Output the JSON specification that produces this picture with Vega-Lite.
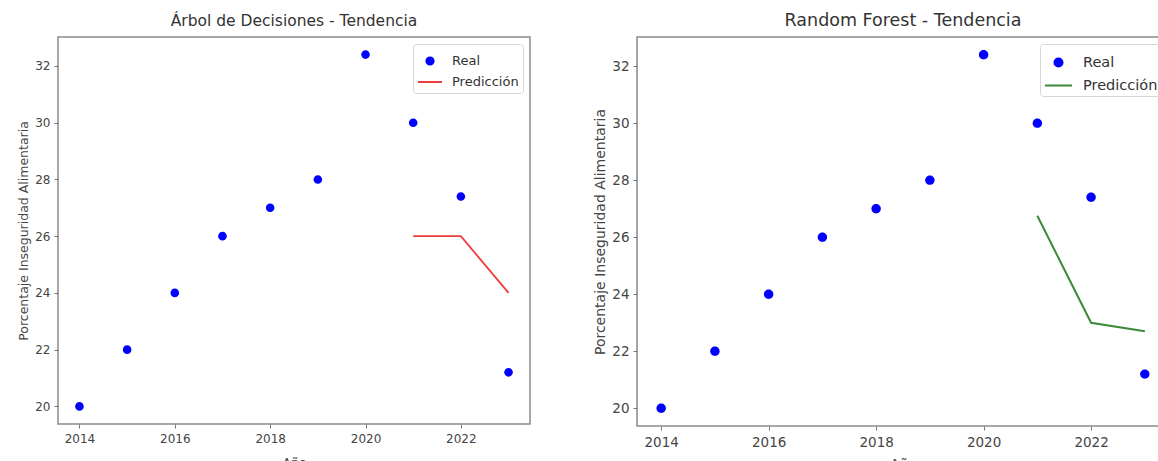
{
  "$schema": "https://vega.github.io/schema/vega-lite/v6.json",
  "background": "white",
  "padding": {"left": 16, "top": 10, "right": 0, "bottom": 0},
  "config": {
    "font": "DejaVu Sans",
    "view": {"stroke": "#8a8a8a", "strokeWidth": 1.5},
    "title": {"fontSize": 15.5, "fontWeight": "normal", "color": "#333", "offset": 8},
    "axis": {"grid": false, "domain": false, "tickColor": "#777", "tickSize": 4, "labelFontSize": 12, "labelColor": "#444", "titleFontSize": 12.5, "titleFontWeight": "normal", "titleColor": "#444", "labelPadding": 4},
    "axisX": {"labelPadding": 5, "titlePadding": 12},
    "legend": {"orient": "top-right", "offset": 7, "strokeColor": "#d6d6d6", "fillColor": "white", "padding": 4, "cornerRadius": 3, "labelFontSize": 13, "labelColor": "#333", "title": null, "rowPadding": -3, "symbolSize": 576, "symbolStrokeWidth": 2, "labelOffset": 9}
  },
  "datasets": {
    "real": [
      {"anio": 2014, "valor": 20, "serie": "Real"},
      {"anio": 2015, "valor": 22, "serie": "Real"},
      {"anio": 2016, "valor": 24, "serie": "Real"},
      {"anio": 2017, "valor": 26, "serie": "Real"},
      {"anio": 2018, "valor": 27, "serie": "Real"},
      {"anio": 2019, "valor": 28, "serie": "Real"},
      {"anio": 2020, "valor": 32.4, "serie": "Real"},
      {"anio": 2021, "valor": 30, "serie": "Real"},
      {"anio": 2022, "valor": 27.4, "serie": "Real"},
      {"anio": 2023, "valor": 21.2, "serie": "Real"}
    ],
    "arbol": [
      {"anio": 2021, "valor": 26, "serie": "Predicción"},
      {"anio": 2022, "valor": 26, "serie": "Predicción"},
      {"anio": 2023, "valor": 24, "serie": "Predicción"}
    ],
    "bosque": [
      {"anio": 2021, "valor": 26.75, "serie": "Predicción"},
      {"anio": 2022, "valor": 23.0, "serie": "Predicción"},
      {"anio": 2023, "valor": 22.7, "serie": "Predicción"}
    ]
  },
  "spacing": 62,
  "hconcat": [
    {
      "title": "Árbol de Decisiones - Tendencia",
      "width": 472,
      "height": 387,
      "encoding": {
        "x": {"field": "anio", "type": "quantitative", "title": "Año", "scale": {"domain": [2013.55, 2023.45], "nice": false, "zero": false}, "axis": {"values": [2014, 2016, 2018, 2020, 2022], "format": "d"}},
        "y": {"field": "valor", "type": "quantitative", "title": "Porcentaje Inseguridad Alimentaria", "scale": {"domain": [19.38, 33.02], "nice": false, "zero": false}, "axis": {"values": [20, 22, 24, 26, 28, 30, 32]}},
        "color": {"field": "serie", "type": "nominal", "scale": {"domain": ["Real", "Predicción"], "range": ["#0000ff", "#f03c3c"]}}
      },
      "layer": [
        {"data": {"name": "real"}, "mark": {"type": "point", "filled": true, "opacity": 1, "size": 822}, "encoding": {"shape": {"field": "serie", "type": "nominal", "scale": {"domain": ["Real", "Predicción"], "range": ["M -0.3,0 A 0.3,0.3 0 1,1 0.3,0 A 0.3,0.3 0 1,1 -0.3,0 Z", "stroke"]}}}},
        {"data": {"name": "arbol"}, "mark": {"type": "line", "strokeWidth": 1.8}}
      ]
    },
    {
      "title": {"text": "Random Forest - Tendencia", "fontSize": 17.5},
      "width": 532,
      "height": 389,
      "encoding": {
        "x": {"field": "anio", "type": "quantitative", "title": "Año", "scale": {"domain": [2013.55, 2023.45], "nice": false, "zero": false}, "axis": {"values": [2014, 2016, 2018, 2020, 2022], "format": "d", "labelFontSize": 13.5, "titleFontSize": 14, "titlePadding": 9}},
        "y": {"field": "valor", "type": "quantitative", "title": "Porcentaje Inseguridad Alimentaria", "scale": {"domain": [19.38, 33.02], "nice": false, "zero": false}, "axis": {"values": [20, 22, 24, 26, 28, 30, 32], "labelFontSize": 13.5, "titleFontSize": 14}},
        "color": {"field": "serie", "type": "nominal", "scale": {"domain": ["Real", "Predicción"], "range": ["#0000ff", "#3a8a3a"]}, "legend": {"labelFontSize": 14.5, "symbolSize": 729, "rowPadding": -3, "labelOffset": 10}}
      },
      "layer": [
        {"data": {"name": "real"}, "mark": {"type": "point", "filled": true, "opacity": 1, "size": 980}, "encoding": {"shape": {"field": "serie", "type": "nominal", "scale": {"domain": ["Real", "Predicción"], "range": ["M -0.3,0 A 0.3,0.3 0 1,1 0.3,0 A 0.3,0.3 0 1,1 -0.3,0 Z", "stroke"]}, "legend": {"labelFontSize": 14.5, "symbolSize": 729, "rowPadding": -3, "labelOffset": 10}}}},
        {"data": {"name": "bosque"}, "mark": {"type": "line", "strokeWidth": 2}}
      ]
    }
  ],
  "resolve": {"scale": {"color": "independent", "shape": "independent"}, "legend": {"color": "independent", "shape": "independent"}}
}
